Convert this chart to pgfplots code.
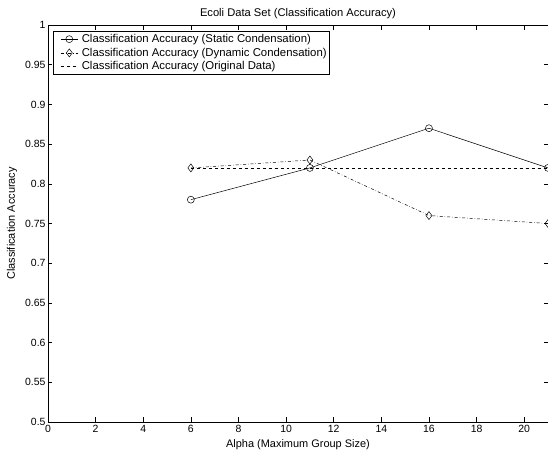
\documentclass[border=0pt]{standalone}
\usepackage{pgfplots}
\pgfplotsset{compat=1.18}
\usepackage{fontspec}
\setmainfont{Liberation Sans}
\begin{document}
\begin{tikzpicture}
\begin{axis}[
  scale only axis,
  width=500bp, height=397bp,
  xmin=0, xmax=21, ymin=0.5, ymax=1,
  xtick={0,2,...,20},
  ytick={0.5,0.55,...,1.001},
  yticklabels={0.5,0.55,0.6,0.65,0.7,0.75,0.8,0.85,0.9,0.95,1},
  tick align=inside,
  major tick length=4.5bp,
  tick style={black, line width=0.5pt},
  axis line style={line width=0.6pt},
  every tick label/.append style={font=\fontsize{10.5}{12}\selectfont},
  yticklabel style={xshift=1bp},
  /pgf/number format/assume math mode=true,
  title={Ecoli Data Set (Classification Accuracy)},
  title style={font=\fontsize{11.2}{12}\selectfont, anchor=center, at={(0.5,1)}, yshift=5bp},
  xlabel={Alpha (Maximum Group Size)},
  ylabel={Classification Accuracy},
  xlabel style={font=\fontsize{11}{12}\selectfont, anchor=center, at={(0.5,0)}, yshift=-23bp},
  ylabel style={font=\fontsize{11}{12}\selectfont, anchor=center, at={(0,0.5)}, yshift=36bp},
  legend style={at={(0,1)}, anchor=north west, xshift=5.5bp, yshift=-6bp,
    font=\fontsize{11.4}{12}\selectfont, draw=black, line width=0.6pt,
    inner sep=1bp, row sep=0bp, cells={anchor=west}},
  legend cell align=left,
  legend image code/.code={%
    \path[draw=none, fill=none] (0bp,-2bp) (25bp,2bp);
    \draw[mark repeat=2,mark phase=2] plot coordinates {(6bp,0bp) (14.5bp,0bp) (23bp,0bp)};},
]
\addplot[black, line width=0.5pt, mark=o, mark size=3.5bp, mark options={solid}]
  coordinates {(6,0.78) (11,0.82) (16,0.87) (21,0.82)};
\addlegendentry{Classification Accuracy (Static Condensation)}
\addplot[black, line width=0.5pt, dash dot, mark=diamond, mark size=4bp, mark options={solid}]
  coordinates {(6,0.82) (11,0.83) (16,0.76) (21,0.75)};
\addlegendentry{Classification Accuracy (Dynamic Condensation)}
\addplot[black, line width=0.5pt, dashed]
  coordinates {(6,0.82) (11,0.82) (16,0.82) (21,0.82)};
\addlegendentry{Classification Accuracy (Original Data)}
\end{axis}
\pgfresetboundingbox
\path[use as bounding box] (-48bp,-32bp) rectangle (500bp,422bp);
\end{tikzpicture}
\end{document}
